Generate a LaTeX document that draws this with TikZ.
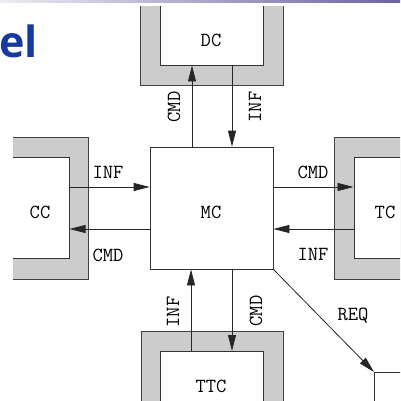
\documentclass[tikz,border=0pt]{standalone}
\usepackage{fontspec}
\newfontfamily\titlefont{Open Sans}
\usetikzlibrary{arrows.meta}

\definecolor{shellgray}{RGB}{204, 204, 204}
\definecolor{titleblue}{RGB}{22, 58, 160}
\definecolor{barleft}{RGB}{236, 236, 242}
\definecolor{barright}{RGB}{108, 98, 160}

\tikzset{
  shellbox/.style={draw=black!75, fill=shellgray, line width=1pt, inner sep=0pt},
  corebox/.style={draw=black!80, fill=white, line width=0.8pt, inner sep=0pt},
  sig/.style={-{Triangle[length=16pt, width=8pt]}, draw=black!85, line width=0.8pt},
  lbl/.style={font=\fontsize{20}{20}\selectfont\ttfamily, inner sep=0pt}
}

\begin{document}
\begin{tikzpicture}[x=1pt, y=-1pt]

\useasboundingbox (0,0) rectangle (400,401);
\fill[white] (0,0) rectangle (400,401);

% slide title bar and title
\shade[left color=barleft, right color=barright] (0,0) rectangle (400,2.5);
\node[anchor=base west, text=titleblue, inner sep=0pt,
      font=\titlefont\bfseries\fontsize{43}{43}\selectfont] (title) at (-1,58) {el};

\begin{scope}
\clip (13,7) rectangle (400,401);

% central controller
\node[corebox, minimum width=123, minimum height=122] (mc) at (211.5,208) {};
\node[lbl] at (211,212) {MC};

% DC (top)
\node[shellbox, minimum width=143, minimum height=146] (dcOut) at (211.5,13) {};
\node[corebox, minimum width=103, minimum height=125, anchor=south] (dc) at ([yshift=21pt]dcOut.south) {};
\node[lbl] at (211,40) {DC};

% CC (left)
\node[shellbox, minimum width=140, minimum height=142] (ccOut) at (18,208) {};
\node[corebox, minimum width=121, minimum height=101, anchor=east] (cc) at ([xshift=-19pt]ccOut.east) {};
\node[lbl] at (40,212) {CC};

% TC (right)
\node[shellbox, minimum width=140, minimum height=142] (tcOut) at (404,208) {};
\node[corebox, minimum width=120, minimum height=101, anchor=west] (tc) at ([xshift=20pt]tcOut.west) {};
\node[lbl] at (385,212) {TC};

% TTC (bottom)
\node[shellbox, minimum width=142, minimum height=120, anchor=north] (ttcOut) at (212,331) {};
\node[corebox, minimum width=103, minimum height=100, anchor=north] (ttc) at ([yshift=-20pt]ttcOut.north) {};
\node[lbl] at (211,386) {TTC};

% box reached by REQ (bottom right)
\node[corebox, minimum width=60, minimum height=60, anchor=north west] (req) at (374,372) {};

% MC <-> DC
\draw[sig] ([xshift=-19.5pt]mc.north) -- ([xshift=-19.5pt]mc.north |- dc.south);
\draw[sig] ([xshift=20.5pt]mc.north |- dc.south) -- ([xshift=20.5pt]mc.north);
\node[lbl, rotate=90] at (174,107) {CMD};
\node[lbl, rotate=90] at (255,107) {INF};

% CC <-> MC
\draw[sig] ([yshift=21pt]mc.west -| cc.east) -- ([yshift=21pt]mc.west);
\draw[sig] ([yshift=-21pt]mc.west) -- ([yshift=-21pt]mc.west -| cc.east);
\node[lbl] at (108,172) {INF};
\node[lbl] at (108,255) {CMD};

% MC <-> TC
\draw[sig] ([yshift=21pt]mc.east) -- ([yshift=21pt]mc.east -| tc.west);
\draw[sig] ([yshift=-21pt]mc.east -| tc.west) -- ([yshift=-21pt]mc.east);
\node[lbl] at (313,172) {CMD};
\node[lbl] at (313,254) {INF};

% TTC <-> MC
\draw[sig] ([xshift=-20.5pt]mc.south |- ttc.north) -- ([xshift=-20.5pt]mc.south);
\draw[sig] ([xshift=20.5pt]mc.south) -- ([xshift=20.5pt]mc.south |- ttc.north);
\node[lbl, rotate=90] at (173,312) {INF};
\node[lbl, rotate=90] at (256,311) {CMD};

% request
\draw[sig] (mc.south east) -- (req.north west);
\node[lbl] at (353,316) {REQ};
\end{scope}

\end{tikzpicture}
\end{document}
